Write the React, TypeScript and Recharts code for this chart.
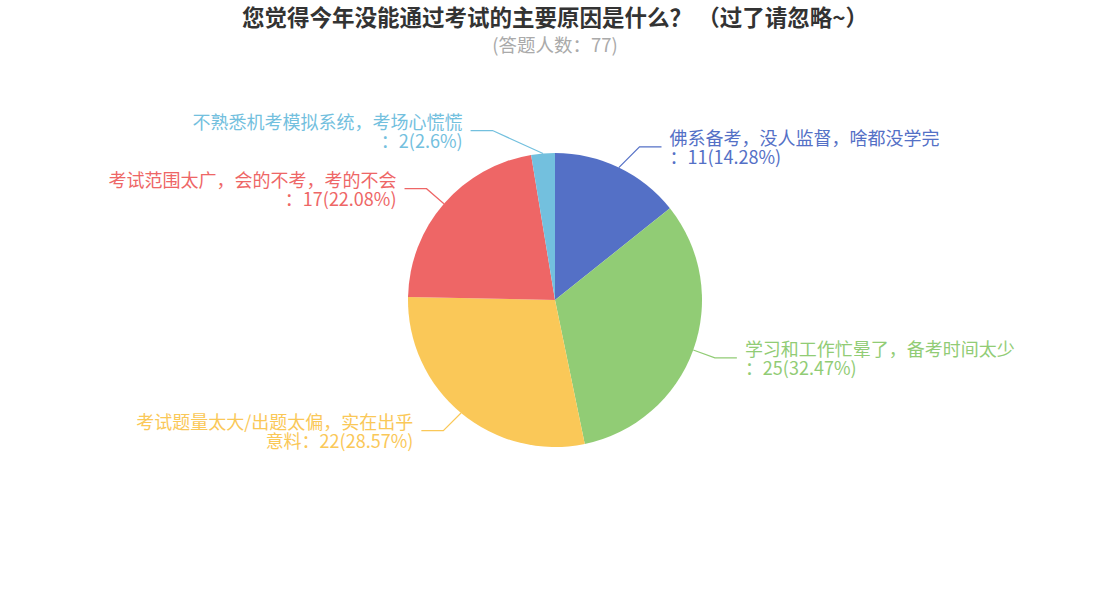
import React from 'react';
import { PieChart, Pie, Cell } from 'recharts';

const titleText = '您觉得今年没能通过考试的主要原因是什么？ （过了请忽略~）';
const subtitleText = '(答题人数：77)';

const categories = [
  '佛系备考，没人监督，啥都没学完',
  '学习和工作忙晕了，备考时间太少',
  '考试题量太大/出题太偏，实在出乎意料',
  '考试范围太广，会的不考，考的不会',
  '不熟悉机考模拟系统，考场心慌慌',
];
const values = [11, 25, 22, 17, 2];
const percentLabels = ['14.28', '32.47', '28.57', '22.08', '2.6'];
const colors = ['#5470c6', '#91cc75', '#fac858', '#ee6666', '#73c0de'];

const data = categories.map((name, i) => ({ name, value: values[i], pct: percentLabels[i] }));

const RAD = Math.PI / 180;
const LEN1 = 23;
const LEN2 = 22;
const GAP = 8;
const FONT_SIZE = 18;
const MAX_EM = 16;
const FONT = '"Noto Sans CJK SC", "Noto Sans", sans-serif';

const emWidth = (ch: string) => (/[\x00-\xff]/.test(ch) ? 0.55 : 1);

function wrapLabel(name: string, tail: string): [string, string] {
  let w = 0;
  for (const ch of name) w += emWidth(ch);
  if (w <= MAX_EM) return [name, tail];
  let acc = 0;
  let i = 0;
  const chars = Array.from(name);
  for (; i < chars.length; i++) {
    const cw = emWidth(chars[i]);
    if (acc + cw > MAX_EM) break;
    acc += cw;
  }
  return [chars.slice(0, i).join(''), chars.slice(i).join('') + tail];
}

const renderLabel = (props: any) => {
  const { cx, cy, midAngle, outerRadius, index } = props;
  const d = data[index];
  const color = colors[index % colors.length];
  const cos = Math.cos(-midAngle * RAD);
  const sin = Math.sin(-midAngle * RAD);
  const sx = cx + outerRadius * cos;
  const sy = cy + outerRadius * sin;
  const ey = cy + (outerRadius + LEN1) * sin;
  let ex = cx + (outerRadius + LEN1) * cos;
  const dir = cos >= 0 ? 1 : -1;
  // keep the first leader segment at least 45° off the vertical; steeper near the top
  const rise = Math.abs(ey - sy);
  const minDx = Math.abs(sin) > 0.99 ? rise * 2.2 : rise;
  if ((ex - sx) * dir < minDx) ex = sx + dir * minDx;
  const lx = ex + dir * LEN2;
  const tx = lx + dir * GAP;
  const [l1, l2] = wrapLabel(d.name, `：${d.value}(${d.pct}%)`);
  const anchor = dir > 0 ? 'start' : 'end';
  return (
    <g key={`lbl-${index}`}>
      <polyline
        points={`${sx},${sy} ${ex},${ey} ${lx},${ey}`}
        fill="none"
        stroke={color}
        strokeWidth={1.2}
      />
      <text x={tx} y={ey - 10} textAnchor={anchor} dominantBaseline="central" fill={color} fontSize={FONT_SIZE} fontFamily={FONT}>
        {l1}
      </text>
      <text x={tx} y={ey + 9} textAnchor={anchor} dominantBaseline="central" fill={color} fontSize={FONT_SIZE} fontFamily={FONT}>
        {l2}
      </text>
    </g>
  );
};

export default function App() {
  return (
    <div style={{ position: 'relative', width: 1110, height: 600, background: '#fff', fontFamily: FONT }}>
      <style>{`body{margin:0;}`}</style>
      <div
        style={{
          position: 'absolute',
          top: 2,
          left: 0,
          width: 1110,
          textAlign: 'center',
          fontSize: 22.5,
          fontWeight: 'bold',
          color: '#333',
          lineHeight: '28px',
          whiteSpace: 'pre',
        }}
      >
        {titleText}
      </div>
      <div
        style={{
          position: 'absolute',
          top: 32,
          left: 0,
          width: 1110,
          textAlign: 'center',
          fontSize: 18.5,
          color: '#aaa',
          lineHeight: '24px',
        }}
      >
        {subtitleText}
      </div>
      <PieChart
        width={1110}
        height={600}
        margin={{ top: 0, right: 0, bottom: 0, left: 0 }}
        style={{ position: 'absolute', top: 0, left: 0 }}
      >
        <Pie
          data={data}
          dataKey="value"
          nameKey="name"
          cx={555}
          cy={300}
          outerRadius={147}
          startAngle={90}
          endAngle={-270}
          stroke="none"
          label={renderLabel}
          labelLine={false}
          isAnimationActive={false}
        >
          {data.map((_, i) => (
            <Cell key={i} fill={colors[i % colors.length]} />
          ))}
        </Pie>
      </PieChart>
    </div>
  );
}
